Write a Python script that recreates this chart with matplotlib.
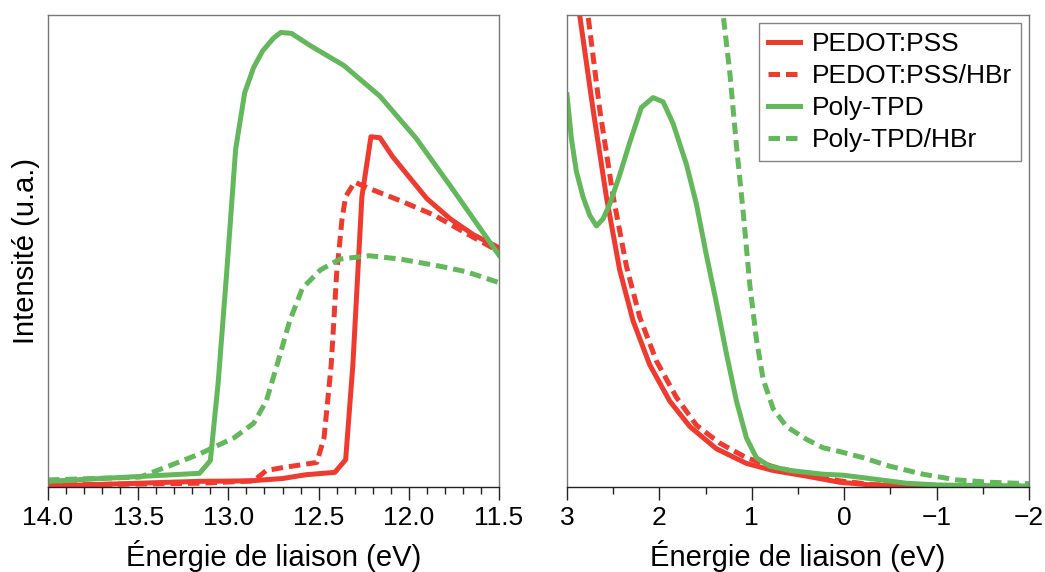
import matplotlib
matplotlib.use("Agg")
import matplotlib.pyplot as plt
from matplotlib.ticker import MultipleLocator

plt.rcParams["font.family"] = ["Liberation Sans", "DejaVu Sans"]

RED = "#ee3a2f"
GREEN = "#62b85a"

# --- Left panel (13-ish eV region), normalized intensity ---
pss_x_l = [14.0, 13.16, 12.88, 12.70, 12.57, 12.41, 12.35, 12.31, 12.26, 12.21,
           12.16, 12.09, 11.99, 11.90, 11.77, 11.64, 11.5]
pss_y_l = [0.002, 0.012, 0.013, 0.018, 0.026, 0.031, 0.058, 0.259, 0.615, 0.742,
           0.740, 0.700, 0.653, 0.611, 0.568, 0.534, 0.507]

psshbr_x_l = [14.0, 13.16, 12.86, 12.79, 12.70, 12.51, 12.47, 12.43, 12.40, 12.37,
              12.35, 12.30, 12.23, 12.05, 11.86, 11.68, 11.5]
psshbr_y_l = [0.004, 0.008, 0.013, 0.035, 0.041, 0.052, 0.104, 0.259, 0.452, 0.568,
              0.615, 0.646, 0.634, 0.607, 0.576, 0.537, 0.499]

tpd_x_l = [14.0, 13.16, 13.10, 13.057, 13.01, 12.96, 12.91, 12.86, 12.81, 12.75,
           12.71, 12.65, 12.55, 12.36, 12.16, 11.96, 11.77, 11.5]
tpd_y_l = [0.012, 0.029, 0.056, 0.22, 0.452, 0.715, 0.835, 0.889, 0.924, 0.951,
           0.963, 0.961, 0.936, 0.893, 0.828, 0.739, 0.638, 0.491]

tpdhbr_x_l = [14.0, 13.49, 13.34, 13.16, 12.97, 12.86, 12.79, 12.73, 12.66, 12.59,
              12.49, 12.38, 12.22, 12.05, 11.83, 11.68, 11.5]
tpdhbr_y_l = [0.015, 0.021, 0.043, 0.07, 0.104, 0.135, 0.182, 0.259, 0.352, 0.421,
              0.46, 0.483, 0.49, 0.483, 0.468, 0.456, 0.433]

# --- Right panel (valence band edge) ---
pss_x_r = [2.90, 2.863, 2.718, 2.574, 2.43, 2.285, 2.105, 1.888, 1.67, 1.383,
           1.058, 0.77, 0.408, 0.047, -0.314, -0.675, -2.0]
pss_y_r = [1.03, 1.0, 0.80, 0.615, 0.46, 0.352, 0.259, 0.182, 0.128, 0.081,
           0.05, 0.035, 0.023, 0.01, 0.004, 0.0015, 0.001]

psshbr_x_r = [2.81, 2.773, 2.646, 2.50, 2.357, 2.213, 2.032, 1.816, 1.60, 1.347,
              1.058, 0.77, 0.408, 0.047, -0.314, -2.0]
psshbr_y_r = [1.03, 1.0, 0.80, 0.615, 0.468, 0.36, 0.267, 0.19, 0.131, 0.093,
              0.062, 0.043, 0.027, 0.013, 0.005, 0.0015]

tpd_x_r = [3.0, 2.953, 2.899, 2.827, 2.755, 2.682, 2.61, 2.538, 2.43, 2.321,
           2.195, 2.069, 1.96, 1.852, 1.708, 1.599, 1.491, 1.383, 1.274, 1.166,
           1.058, 0.95, 0.805, 0.588, 0.227, 0.01, -0.314, -0.675, -1.036, -2.0]
tpd_y_r = [0.831, 0.739, 0.669, 0.615, 0.576, 0.553, 0.568, 0.599, 0.661, 0.73,
           0.804, 0.825, 0.816, 0.77, 0.684, 0.599, 0.491, 0.39, 0.282, 0.182,
           0.104, 0.062, 0.044, 0.035, 0.027, 0.025, 0.017, 0.008, 0.004, 0.002]

tpdhbr_x_r = [1.33, 1.31, 1.238, 1.166, 1.094, 1.022, 0.95, 0.877, 0.769, 0.625,
              0.408, 0.227, 0.047, -0.206, -0.495, -0.856, -1.217, -1.578, -2.0]
tpdhbr_y_r = [1.03, 1.0, 0.878, 0.723, 0.584, 0.429, 0.313, 0.228, 0.166, 0.128,
              0.101, 0.083, 0.075, 0.062, 0.044, 0.027, 0.015, 0.01, 0.007]

labels = ["PEDOT:PSS", "PEDOT:PSS/HBr", "Poly-TPD", "Poly-TPD/HBr"]

fig = plt.figure(figsize=(10.45, 5.72), dpi=100)
ax1 = fig.add_axes([48 / 1045, 1 - 487 / 572, 451 / 1045, 472 / 572])
ax2 = fig.add_axes([567 / 1045, 1 - 487 / 572, 462 / 1045, 472 / 572])

lw = 3.6
dash = (2.3, 1.2)


def draw(ax, series):
    for (x, y), color, ls, lab in zip(series, [RED, RED, GREEN, GREEN],
                                      ["-", "--", "-", "--"], labels):
        line, = ax.plot(x, y, color=color, lw=lw, label=lab, solid_joinstyle="round")
        if ls == "--":
            line.set_dashes(dash)


draw(ax1, [(pss_x_l, pss_y_l), (psshbr_x_l, psshbr_y_l),
           (tpd_x_l, tpd_y_l), (tpdhbr_x_l, tpdhbr_y_l)])
draw(ax2, [(pss_x_r, pss_y_r), (psshbr_x_r, psshbr_y_r),
           (tpd_x_r, tpd_y_r), (tpdhbr_x_r, tpdhbr_y_r)])

ax1.set_xlim(14.0, 11.5)
ax1.xaxis.set_major_locator(MultipleLocator(0.5))
ax1.xaxis.set_minor_locator(MultipleLocator(0.1))
ax1.xaxis.set_major_formatter(plt.FormatStrFormatter("%.1f"))
ax2.set_xlim(3, -2)
ax2.xaxis.set_major_locator(MultipleLocator(1))
ax2.xaxis.set_minor_locator(MultipleLocator(0.5))
ax2.xaxis.set_major_formatter(plt.FuncFormatter(lambda v, p: f"{v:.0f}".replace("-", "\u2212")))

for ax in (ax1, ax2):
    ax.set_ylim(0, 1)
    ax.set_yticks([])
    for s in ax.spines.values():
        s.set_color("#777777")
        s.set_linewidth(1.0)
    ax.spines["bottom"].set_color("#222222")
    ax.tick_params(axis="x", which="major", length=9, width=1.0, labelsize=19,
                   direction="out", pad=5, color="#222222")
    ax.tick_params(axis="x", which="minor", length=5, width=1.0, direction="out",
                   color="#222222")
    ax.set_xlabel("Énergie de liaison (eV)", fontsize=21, labelpad=7)

ax1.set_ylabel("Intensité (u.a.)", fontsize=21, labelpad=6)

leg = ax2.legend(loc="upper right", bbox_to_anchor=(1.0, 1.0), fontsize=19,
                 frameon=True, fancybox=False, handlelength=1.2, labelspacing=0.3,
                 handletextpad=0.45, borderpad=0.35, borderaxespad=0.3)
leg.get_frame().set_edgecolor("#666666")
leg.get_frame().set_linewidth(1.0)

fig.savefig("out.png", dpi=100)
